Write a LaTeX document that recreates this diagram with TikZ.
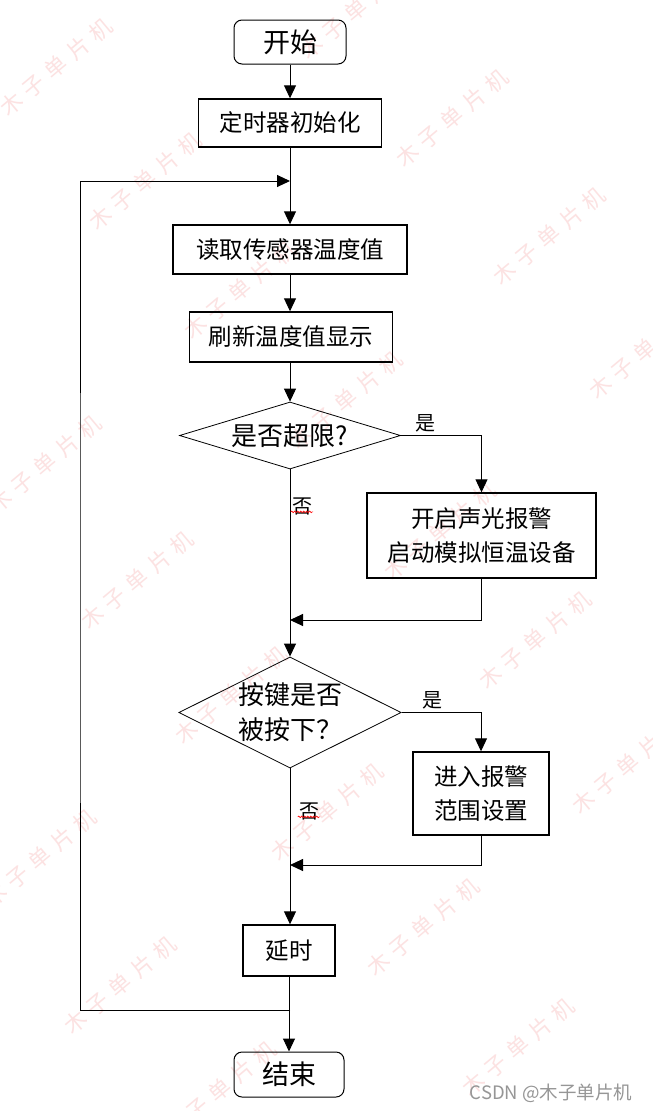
\documentclass[tikz,border=0pt]{standalone}
\usepackage{fontspec}
\setmainfont{Noto Sans CJK SC}
\usetikzlibrary{shapes.geometric,arrows.meta,decorations.pathmorphing}
\definecolor{wmpink}{RGB}{252,226,226}
\definecolor{csdngray}{RGB}{150,150,150}
\newcommand{\wmtxt}{木\hspace{7pt}子\hspace{7pt}单\hspace{7pt}片\hspace{7pt}机}
\begin{document}
\begin{tikzpicture}[x=1pt,y=-1pt,
  box/.style={draw,line width=1.4pt,rectangle,inner sep=0pt,align=center,font=\fontsize{23.5}{34}\selectfont},
  term/.style={draw,line width=1pt,rounded corners=8pt,inner sep=0pt,font=\fontsize{27}{30}\selectfont},
  dec/.style={draw,line width=0.8pt,diamond,inner sep=0pt,align=center,font=\fontsize{26}{35}\selectfont},
  lbl/.style={inner sep=0pt,font=\fontsize{20}{21}\selectfont},
  arr/.style={line width=1pt,-{Triangle[length=13pt,width=12pt]}},
  wm/.style={text=wmpink,rotate=40,inner sep=0pt,font=\fontsize{22}{24}\selectfont}]
\useasboundingbox[fill=white] (0,0) rectangle (653,1111);

% watermarks
\foreach \wx/\wy [count=\i] in {56/67,356/10,145/181,452/118,240/290,549/236,346/400,645/350,45/464,440/531,137/580,535/640,231/695,628/765,40/858,327/812,423/927,120/985,518/1047,220/1090}
  \node[wm] (wm\i) at (\wx,\wy) {\wmtxt};

% nodes
\node[term, minimum width=112pt, minimum height=44pt] (start) at (290,42) {开始};
\node[box, minimum width=183pt, minimum height=48pt] (init) at (290,123) {定时器初始化};
\node[box, minimum width=234pt, minimum height=49pt] (read) at (290,249.5) {读取传感器温度值};
\node[box, minimum width=203pt, minimum height=50pt] (refresh) at (291,337) {刷新温度值显示};
\node[dec, minimum width=221pt, minimum height=67pt, aspect=3.3] (d1) at (290,435.5) {是否超限?};
\node[box, minimum width=229pt, minimum height=85pt] (alarm) at (481.5,535.5) {开启声光报警\\启动模拟恒温设备};
\node[dec, minimum width=221pt, minimum height=111pt, aspect=2] (d2) at (290,712.5) {按键是否\\被按下？};
\node[box, minimum width=136pt, minimum height=83pt] (set) at (481,793.5) {进入报警\\范围设置};
\node[box, minimum width=92pt, minimum height=51pt] (delay) at (289,950.5) {延时};
\node[term, minimum width=110pt, minimum height=45pt] (end) at (289,1074.5) {结束};

\node[lbl] (yes1) at (425,423) {是};
\node[lbl] (no1) at (302,506) {否};
\node[lbl] (yes2) at (432,700) {是};
\node[lbl] (no2) at (309,811) {否};

\node[inner sep=0pt,text=csdngray,font=\fontsize{18.5}{20}\selectfont] (csdn) at (551,1093) {CSDN @木子单片机};

% helper coordinates
\coordinate (jt) at (290,181);
\coordinate (jb) at (290,1010);
\coordinate (lc) at (80,600);
\coordinate (m1) at (290,620);
\coordinate (m2) at (290,865);

% connectors
\draw[arr] (start.south) -- (init.north);
\draw[arr] (init.south) -- (read.north);
\draw[arr] (read.south) -- (refresh.north -| read.south);
\draw[arr] (refresh.south -| d1.north) -- (d1.north);
\draw[arr] (d1.east) -| (alarm.north);
\draw[arr] (d1.south) -- (d2.north);
\draw[arr] (alarm.south) |- (m1);
\draw[arr] (d2.east) -| (set.north);
\draw[arr] (d2.south) -- (delay.north -| d2.south);
\draw[arr] (set.south) |- (m2);
\draw[arr] (delay.south) -- (end.north);
\draw[arr] (jb) -| (lc) |- (jt);

% wavy underlines
\draw[red,line width=0.6pt,decorate,decoration={snake,amplitude=0.8pt,segment length=3pt}]
  ([yshift=3pt,xshift=-1pt]no1.south west) -- ([yshift=3pt,xshift=1pt]no1.south east);
\draw[red,line width=0.6pt,decorate,decoration={snake,amplitude=0.8pt,segment length=3pt}]
  ([yshift=3pt,xshift=-1pt]no2.south west) -- ([yshift=3pt,xshift=1pt]no2.south east);
\end{tikzpicture}
\end{document}
